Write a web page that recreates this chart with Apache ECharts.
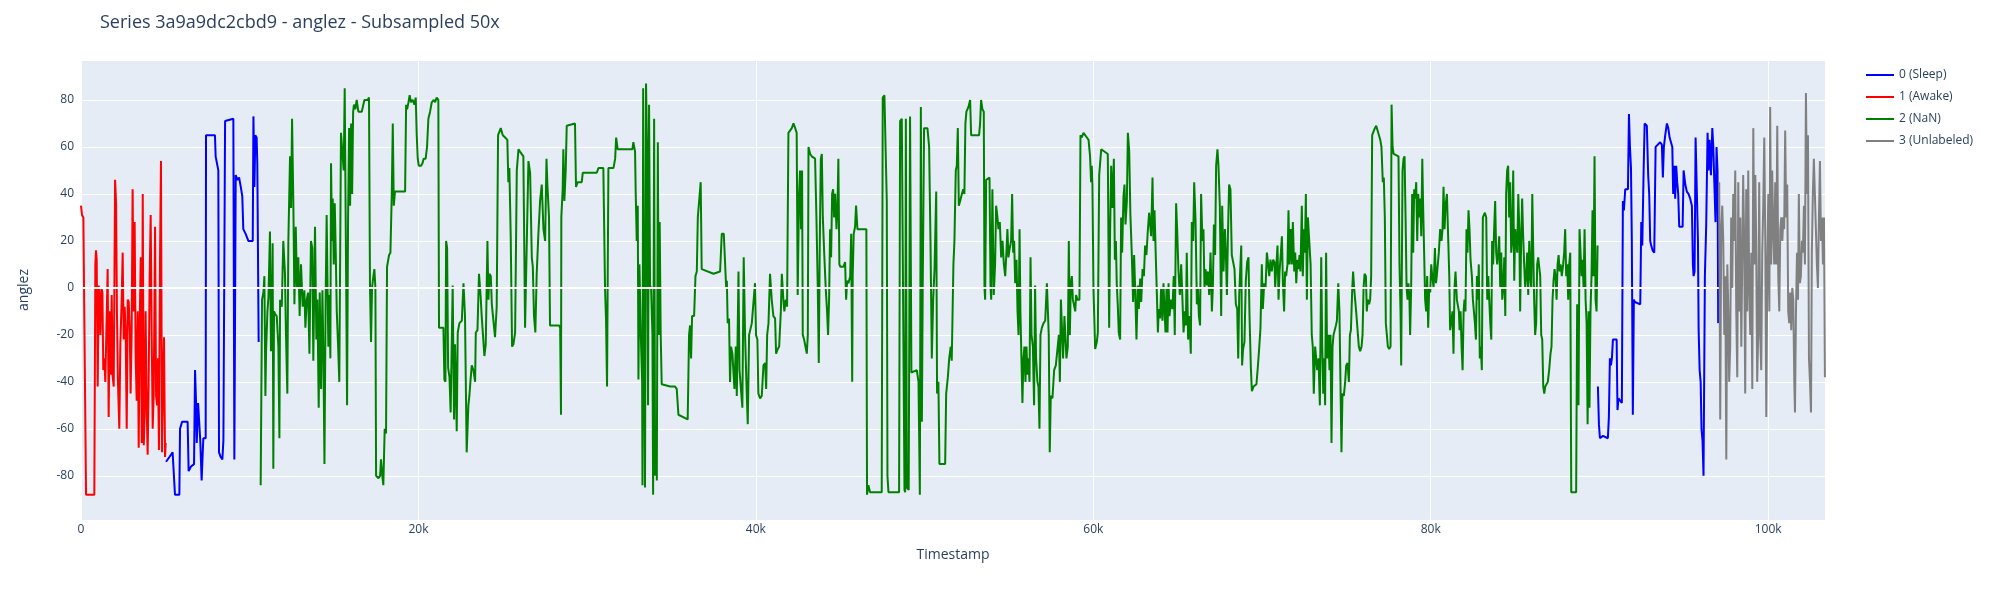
<!DOCTYPE html>
<html>
<head>
<meta charset="utf-8">
<title>Series 3a9a9dc2cbd9 - anglez</title>
<script src="https://cdn.jsdelivr.net/npm/echarts@6/dist/echarts.min.js"></script>
<style>
  html, body { margin: 0; padding: 0; background: #fff; }
  #chart { width: 2000px; height: 600px; }
</style>
</head>
<body>
<div id="chart"></div>
<script>
// [timestamp, anglez] pairs (subsampled 50x)
const awakePts = [[0,35],[60,31],[140,30],[180,0],[260,0],[300,-88],[790,-88],[850,10],[890,16],[930,12],[990,-42],[1050,1],[1110,-5],[1150,-20],[1210,0],[1270,-2],[1320,-35],[1380,-30],[1440,-40],[1500,-20],[1580,8],[1640,-55],[1700,-10],[1760,-37],[1820,-3],[1880,-38],[1940,-42],[2020,46],[2080,36],[2130,-10],[2190,-40],[2270,-60],[2330,-25],[2410,-5],[2470,15],[2530,-22],[2590,-8],[2650,-20],[2710,-60],[2770,-5],[2830,-6],[2890,-18],[2940,-45],[3000,-20],[3060,42],[3120,-10],[3180,28],[3240,-30],[3300,-48],[3360,-10],[3420,-68],[3480,-15],[3540,13],[3600,-66],[3660,40],[3720,-67],[3770,-55],[3830,-10],[3890,-50],[3950,-71],[4010,-40],[4070,5],[4130,31],[4190,-20],[4250,-60],[4310,-45],[4390,26],[4450,-46],[4510,-50],[4560,-30],[4620,-69],[4680,10],[4740,54],[4800,-70],[4860,-40],[4920,-21],[4980,-72],[5020,-66]];

const sleepPtsA = [[5040,-74],[5240,-72],[5430,-70],[5570,-88],[5830,-88],[5870,-60],[5990,-57],[6320,-57],[6380,-78],[6520,-76],[6700,-75],[6760,-35],[6820,-49],[6860,-66],[6940,-49],[7020,-49],[7070,-65],[7150,-82],[7250,-64],[7390,-64],[7410,65],[7650,65],[7940,65],[7980,56],[8140,50],[8180,-70],[8280,-72],[8380,-73],[8440,-65],[8540,71],[9030,72],[9090,-73],[9170,48],[9270,46],[9370,47],[9470,43],[9560,39],[9620,25],[9760,23],[9920,20],[10180,20],[10220,73],[10280,43],[10330,65],[10410,64],[10450,53],[10530,-23]];

const sleepPtsB = [[89910,-42],[89970,-58],[90030,-64],[90210,-63],[90500,-64],[90560,-55],[90620,-30],[90680,-33],[90740,-30],[90800,-22],[91020,-22],[91070,-52],[91130,-47],[91330,-49],[91390,37],[91450,33],[91530,42],[91690,42],[91750,74],[91810,60],[91870,51],[91920,20],[91980,-54],[92040,-5],[92100,-6],[92420,-7],[92480,28],[92540,18],[92620,50],[92680,70],[92810,69],[92890,48],[92950,40],[93010,20],[93070,18],[93150,16],[93250,15],[93330,60],[93600,62],[93700,61],[93760,47],[93820,60],[93900,65],[94000,70],[94080,68],[94160,64],[94240,62],[94320,60],[94370,40],[94430,52],[94490,38],[94550,52],[94610,45],[94670,40],[94730,26],[94930,26],[94990,50],[95090,44],[95180,41],[95280,40],[95380,38],[95480,35],[95540,10],[95580,5],[95640,7],[95700,64],[95780,64],[95840,20],[95880,-18],[95940,-35],[96000,-40],[96050,-60],[96110,-65],[96170,-80],[96250,5],[96330,27],[96410,66],[96470,50],[96530,63],[96610,48],[96690,68],[96750,60],[96810,45],[96880,28],[96940,60],[97000,50],[97040,-15]];

const nanPts = [
[10650,-84],[10730,-5],[10810,-2],[10870,5],[10930,-46],[10970,-27],[11050,-10],[11110,-4],[11200,24],[11260,-27],[11320,-10],[11360,19],[11400,-77],[11440,-10],[11500,-11],[11600,-12],[11700,-25],[11760,-64],[11800,-5],[11900,-8],[11990,20],[12090,6],[12150,-20],[12230,-45],[12290,20],[12390,56],[12450,34],[12510,72],[12590,34],[12650,-7],[12730,26],[12800,0],[12880,13],[12960,-12],[13040,10],[13140,-8],[13240,-1],[13300,-17],[13380,-5],[13460,-2],[13540,-28],[13630,20],[13710,17],[13770,-31],[13870,26],[13950,-22],[14010,-5],[14090,-51],
[14150,-2],[14230,-43],[14310,-1],[14370,-30],[14430,-75],[14500,-5],[14560,31],[14660,-25],[14720,-3],[14780,-30],[14820,53],[14880,20],[14920,38],[14980,10],[15040,36],[15100,15],[15160,-10],[15240,-25],[15310,-40],[15410,66],[15490,66],[15570,50],[15630,85],[15690,85],[15730,-10],[15770,-50],[15830,30],[15890,68],[15950,35],[16010,70],[16070,40],[16130,75],[16180,78],[16260,76],[16340,80],[16440,75],[16640,75],[16800,80],[16880,80],[16990,80],[17070,81],[17130,0],[17190,-23],[17250,0],[17330,5],[17390,8],[17450,0],[17490,-80],[17630,-81],[17730,-80],[17780,-73],[17860,-80],[17920,-84],[18000,-60],[18080,-62],[18140,9],[18260,14],[18340,15],[18420,40],[18480,70],[18540,35],[18610,41],[19210,41],[19270,78],[19330,76],[19410,79],[19480,82],[19560,79],[19660,80],[19760,78],[19840,81],[19900,65],[19960,55],[20020,52],[20160,52],[20240,53],[20310,55],[20430,55],[20510,60],[20590,72],[20690,75],[20790,79],[20910,80],
[20990,79],[21080,81],[21180,80],[21220,-17],[21480,-17],[21540,-39],[21600,-40],[21640,20],[21700,17],[21760,-34],[21840,-38],[21910,-53],[21970,-53],[22030,1],[22110,-56],[22170,-24],[22270,-61],[22330,-19],[22430,-15],[22570,-14],[22670,2],[22760,-12],[22860,-70],[22960,-50],[23020,-46],[23080,-40],[23160,-33],[23260,-35],[23360,-40],[23400,-19],[23500,-18],[23590,6],[23690,-4],[23750,-12],[23850,-12],[23910,-29],[23990,-24],[24090,20],[24150,-5],[24210,6],[24290,5],[24350,-7],[24440,-7],[24540,-21],[24640,-8],[24720,65],[24800,65],[24880,68],[25000,65],[25140,64],[25270,63],[25330,45],[25390,51],[25470,22],[25550,-25],[25630,-24],[25730,-19],[25830,50],[25930,59],[26020,58],[26220,56],[26320,-17],[26420,-17],[26520,54],[26620,49],[26720,13],[26780,9],[26850,-12],[26930,-19],[27010,6],[27110,23],[27210,37],[27310,44],[27410,25],[27510,20],[27590,55],[27650,43],[27740,30],[27800,-16],
[28340,-16],[28400,-17],[28450,-54],[28470,30],[28550,42],[28590,59],[28650,37],[28730,50],[28790,69],[29280,70],[29340,43],[29440,45],[29680,45],[29740,49],[30570,49],[30670,51],[30960,51],[31060,0],[31120,-14],[31180,-42],[31260,51],[31560,51],[31660,55],[31720,64],[31810,59],[32680,59],[32740,62],[32840,58],[32880,40],[32940,20],[33000,35],[33040,-39],[33100,10],[33180,-20],[33260,-40],[33280,-84],[33320,85],[33380,-30],[33430,-85],[33490,87],[33550,60],[33610,-50],[33670,78],[33730,1],[33790,0],[33870,-20],[33910,-88],[33970,72],[34030,-80],[34090,-60],[34130,-82],[34190,62],[34240,-20],[34300,28],[34360,-20],[34420,-41],[34920,-42],[35210,-42],[35310,-43],[35410,-54],[35960,-56],[36040,-20],[36100,-16],[36160,-30],[36220,-12],[36340,-12],[36420,5],[36500,7],[36560,30],[36640,30],[36730,45],[36790,8],[37490,6],[37880,7],[37980,23],[38100,23],
[38240,0],[38280,3],[38330,-15],[38410,-13],[38470,-40],[38530,-25],[38610,-28],[38670,-28],[38730,-43],[38810,-25],[38870,-46],[38970,7],[39030,-35],[39110,-35],[39200,-51],[39280,13],[39360,-20],[39460,-45],[39520,-58],[39600,-20],[39680,-20],[39760,-15],[39860,-15],[39950,2],[40010,-20],[40090,-22],[40150,-45],[40250,-47],[40350,-46],[40450,-33],[40550,-32],[40610,-43],[40670,-20],[40750,-15],[40840,6],[40940,-5],[41040,-12],[41140,-13],[41200,-28],[41300,-26],[41380,-25],[41480,-10],[41540,6],[41630,-5],[41690,-10],[41770,-5],[41850,-8],[41930,66],[42030,66],[42130,68],[42230,70],[42330,68],[42420,66],[42480,-3],[42560,40],[42620,50],[42680,25],[42740,50],[42780,-20],[42860,-22],[42940,-25],[43020,-28],[43080,-20],[43120,60],[43220,57],[43310,56],[43510,55],[43590,30],[43670,0],[43730,-32],[43790,20],[43850,55],[43910,57],[43970,30],[44050,15],[44140,0],[44220,-10],[44280,-20],[44340,-5],[44400,25],[44460,13],[44520,40],[44580,42],[44640,30],[44700,40],[44780,25],[44840,35],[44890,55],[44950,10],[45010,9],[45190,9],[45290,11],[45350,-5],[45410,3],[45490,2],[45590,5],[45650,23],[45710,-40],[45740,5],[45800,23],[45880,26],[45940,35],[46020,25],[46550,25],[46590,-88],[46670,-84],[46770,-87],[47460,-87],[47520,81],[47620,82],[47720,82],[47760,37],[47800,-80],[47860,-87],[48490,-87],[48550,71],[48650,72],[48750,72],[48810,-86],[48850,-87],[48890,72],[48950,-85],[49060,-86],[49140,73],
[49220,-36],[49540,-35],[49640,-40],[49720,-88],[49780,77],[49840,-57],[49890,0],[49970,68],[50170,68],[50270,60],[50350,20],[50430,-30],[50510,-5],[50590,8],[50690,41],[50740,-45],[50820,-40],[50880,-75],[51220,-75],[51280,-45],[51380,-38],[51460,-30],[51550,-25],[51610,-31],[51710,10],[51770,20],[51850,50],[51910,52],[51970,68],[52030,35],[52110,37],[52210,40],[52290,42],[52360,40],[52420,70],[52480,75],[52600,77],[52700,80],[52760,65],[53230,65],[53290,70],[53350,80],[53430,76],[53510,75],[53550,0],[53590,-5],[53650,46],[53850,47],[53910,0],[53950,-5],[54020,42],[54100,-3],[54180,10],[54240,35],[54320,30],[54380,25],[54460,28],[54540,13],[54620,20],[54700,10],[54780,5],[54850,15],[54910,25],[54970,13],[55050,17],[55130,20],[55190,40],[55250,15],[55310,20],[55370,2],[55450,12],[55510,-10],[55570,-20],[55630,25],[55680,-10],[55740,-10],[55800,-49],[55860,-30],[55920,-25],[55980,-40],[56040,-25],[56100,-37],[56160,-30],[56220,-40],[56280,13],[56340,-20],[56420,-25],[56490,-50],[56550,1],[56610,-30],[56690,-40],[56750,-42],[56810,-60],[56870,-20],[56950,-17],[57050,-15],[57150,-14],[57250,2],[57310,2],[57360,-20],[57420,-70],[57480,-46],[57580,-47],[57680,-35],[57780,-33],[57880,-33],[57960,-20],[58020,-40],[58080,-5],[58130,-5],[58210,-30],[58290,-12],[58350,-12],[58410,-30],[58490,-25],[58550,20],[58610,-20],[58670,2],[58730,5],[58790,-5],[58870,-5],[58930,-10],[58980,-3],[59060,-5],[59120,-5],[59180,-5],[59240,65],[59320,64],[59420,66],[59520,66],[59620,64],[59720,63],
[59810,56],[59870,45],[59910,52],[59950,44],[60010,0],[60110,-26],[60210,-23],[60270,-19],[60350,48],[60470,59],[60860,57],[60940,-17],[61000,25],[61060,52],[61140,34],[61220,55],[61280,12],[61340,20],[61390,2],[61450,-7],[61510,-19],[61590,-22],[61650,30],[61710,15],[61790,39],[61850,44],[61910,27],[61990,37],[62050,66],[62130,58],[62200,31],[62280,15],[62360,-6],[62420,14],[62480,0],[62560,-22],[62640,1],[62700,-9],[62780,4],[62840,-6],[62920,8],[63000,5],[63070,18],[63150,14],[63230,24],[63310,32],[63370,27],[63430,22],[63510,47],[63570,20],[63630,33],[63710,12],[63770,-3],[63830,-19],[63880,-9],[63960,-13],[64020,0],[64100,-14],[64160,2],[64220,-9],[64280,-19],[64340,0],[64400,-19],[64460,2],[64520,-12],[64600,-5],[64690,-9],[64770,5],[64830,-20],[64910,36],[64970,25],[65050,7],[65130,-3],[65210,10],[65290,-6],[65350,-19],[65430,-10],[65490,-16],[65540,15],[65620,-22],[65700,-12],[65780,-28],[65840,28],[65920,20],[65980,45],[66060,29],[66140,-7],[66200,0],[66260,-12],[66330,-16],[66390,40],[66470,20],[66530,25],[66590,0],[66650,8],[66730,1],[66790,7],[66870,-3],[66950,15],[67030,-10],[67090,1],[67150,27],[67220,14],[67280,52],[67360,59],[67420,52],[67500,35],[67580,-12],[67640,35],[67720,7],[67800,25],[67860,14],[67920,-3],[67980,22],[68050,44],[68130,42],[68210,14],[68290,11],[68370,8],[68450,-7],[68530,-9],[68590,-30],[68650,-3],[68710,8],[68770,18],[68820,-33],[68880,-26],[68960,-23],[69040,3],[69120,11],[69200,13],[69260,-12],[69340,-34],[69400,-44],[69500,-42],[69600,-42],[69670,-41],[69750,-34],[69830,-26],[69910,-17],[69990,10],[70050,-9],[70130,2],[70210,0],[70290,15],[70350,11],[70430,5],[70500,12],[70580,7],[70660,12],[70740,11],[70780,0],
[70840,0],[70920,18],[70980,-5],[71040,7],[71120,15],[71180,22],[71240,2],[71310,-10],[71370,7],[71430,5],[71510,10],[71570,33],[71630,10],[71710,25],[71770,10],[71830,28],[71910,7],[71970,15],[72030,2],[72100,12],[72160,8],[72220,14],[72280,7],[72360,35],[72420,5],[72480,25],[72540,15],[72600,40],[72660,-5],[72720,30],[72800,20],[72880,10],[72950,-20],[73010,-25],[73070,-45],[73150,-25],[73210,-25],[73270,-35],[73350,-30],[73430,-50],[73510,13],[73570,-25],[73630,-45],[73690,-30],[73740,-50],[73800,15],[73860,-30],[73940,-20],[74000,-35],[74060,-20],[74120,-66],[74180,-25],[74240,-20],[74320,-20],[74380,-16],[74440,-14],[74520,2],[74590,-10],[74650,-40],[74710,-70],[74770,-45],[74850,-46],[74930,-40],[74990,-33],[75070,-32],[75150,-40],[75210,-20],[75270,-18],[75350,0],[75400,7],[75460,0],[75520,-5],[75580,-10],[75660,-10],[75740,-25],[75820,-27],[75900,-25],[75960,-20],[76020,0],[76080,6],[76160,5],[76210,-10],[76270,-5],[76350,-7],[76410,-5],[76470,5],[76530,65],[76610,65],[76690,68],[76770,69],[76850,67],[76930,65],[77010,63],[77080,60],[77160,45],[77220,47],[77280,30],[77340,-15],[77400,-20],[77460,-25],[77540,-26],[77620,-25],[77680,78],[77740,60],[77800,57],[77890,57],[78090,56],[78150,10],[78210,-10],[78250,-33],[78330,50],[78390,55],[78450,56],[78510,30],[78570,0],[78630,-5],[78680,2],[78740,-5],[78780,-20],[78840,0],[78900,40],[78960,15],[79020,42],[79080,38],[79140,45],[79200,20],[79260,40],[79320,30],[79380,38],[79440,22],[79500,55],[79550,35],[79610,15],[79670,-5],[79730,-10],[79790,5],[79850,-17],[79910,0],[79970,-2],[80030,10],[80090,5],[80170,0],[80250,17],[80310,2],[80360,5],[80420,10],[80480,15],[80560,25],[80640,20],[80700,25],[80760,43],[80820,25],[80880,35],[80960,40],[81040,20],[81100,5],[81150,-18],[81210,-15],[81290,-10],[81350,-28],[81410,0],[81470,7],[81550,-5],[81610,-5],[81670,-10],
[81710,-18],[81770,-10],[81830,-25],[81890,-35],[81950,-10],[82000,-5],[82060,-10],[82120,25],[82180,15],[82240,33],[82300,25],[82360,12],[82440,5],[82500,-5],[82560,-10],[82620,-15],[82680,-22],[82740,5],[82800,-5],[82850,10],[82910,-30],[82970,-25],[83030,-35],[83090,30],[83150,30],[83210,32],[83290,30],[83350,-5],[83410,5],[83470,5],[83530,-15],[83590,-22],[83640,20],[83700,10],[83760,25],[83820,37],[83880,15],[83940,10],[84000,15],[84060,22],[84120,0],[84180,15],[84240,-5],[84300,0],[84360,13],[84420,-12],[84470,40],[84530,50],[84590,52],[84650,30],[84710,45],[84770,15],[84830,20],[84890,50],[84950,3],[85010,25],[85070,20],[85130,15],[85190,40],[85250,25],[85300,-10],[85360,20],[85420,38],[85480,22],[85540,10],[85600,0],[85660,5],[85720,15],[85780,-3],[85840,20],[85900,5],[85960,0],[86020,40],[86080,15],[86130,-5],[86190,-20],[86250,-15],[86310,10],[86370,13],[86430,13],[86490,5],[86550,-20],[86610,-22],[86670,-42],[86730,-45],[86790,-42],[86940,-40],[87020,-35],[87100,-28],[87160,-25],[87220,-5],[87280,3],[87340,8],[87400,5],[87460,-5],[87520,10],[87580,14],[87640,7],[87700,10],[87770,5],[87850,10],[87910,15],[87970,25],[88030,5],[88090,10],[88150,-5],[88210,10],[88270,15],[88330,-87],[88620,-87],[88680,-7],[88760,-50],[88820,25],[88880,25],[88940,5],[89000,12],[89060,0],[89120,25],[89180,-5],[89240,-15],[89300,-58],[89360,-10],[89410,-51],[89470,-10],[89530,5],[89590,33],[89650,5],[89710,56],[89770,-5],[89830,-10],[89890,18]
];

const unlabeledPts = [[97100,45],[97160,-56],[97220,25],[97280,35],[97340,20],[97400,-20],[97460,5],[97520,-73],[97580,10],[97640,-10],[97690,-40],[97750,-25],[97810,30],[97870,0],[97930,40],[97990,20],[98050,50],[98110,-10],[98170,-38],[98230,45],[98290,-10],[98350,30],[98410,-25],[98470,15],[98520,48],[98580,20],[98640,-45],[98700,42],[98760,-10],[98820,50],[98880,0],[98940,-20],[99000,15],[99060,-43],[99120,68],[99180,10],[99240,48],[99290,20],[99350,-40],[99410,-20],[99470,45],[99530,-20],[99590,-35],[99650,15],[99710,35],[99770,64],[99830,20],[99890,-55],[99950,10],[100010,40],[100070,-10],[100120,77],[100180,10],[100240,50],[100300,25],[100360,10],[100420,45],[100480,10],[100540,69],[100600,5],[100660,-10],[100720,25],[100780,30],[100840,20],[100900,30],[100950,25],[101010,67],[101070,30],[101130,44],[101190,-10],[101250,-15],[101310,-2],[101370,-18],[101430,0],[101490,-5],[101550,-40],[101590,-53],[101650,-10],[101710,15],[101770,-5],[101820,40],[101880,2],[101940,5],[102000,20],[102060,15],[102120,35],[102180,10],[102240,83],[102300,40],[102360,65],[102420,-30],[102480,-40],[102540,-53],[102590,15],[102650,40],[102710,55],[102770,40],[102830,25],[102890,10],[102950,0],[103010,30],[103070,54],[103130,20],[103190,30],[103250,10],[103310,30],[103365,-38]];

const seriesNames = ['0 (Sleep)', '1 (Awake)', '2 (NaN)', '3 (Unlabeled)'];
const seriesColors = ['#0000ff', '#ff0000', '#008000', '#808080'];

const FONT = '"Open Sans", verdana, arial, sans-serif';
const INK = '#2a3f5f';

const chart = echarts.init(document.getElementById('chart'), null, { renderer: 'canvas', width: 2000, height: 600 });

function lineSeries(idx, data) {
  return {
    name: seriesNames[idx],
    type: 'line',
    data: data,
    z: 2 + idx,
    symbol: 'none',
    showSymbol: false,
    connectNulls: false,
    color: seriesColors[idx],
    lineStyle: { width: 2, color: seriesColors[idx] }
  };
}

// sleep has two separate stretches; '-' breaks the line between them
const sleepData = sleepPtsA.concat([['-', '-']], sleepPtsB);

const option = {
  animation: false,
  backgroundColor: '#ffffff',
  textStyle: { fontFamily: FONT },
  title: {
    text: 'Series 3a9a9dc2cbd9 - anglez - Subsampled 50x',
    left: 95,
    top: 9,
    textStyle: { fontFamily: FONT, fontSize: 18, fontWeight: 'normal', color: INK }
  },
  legend: {
    data: seriesNames,
    orient: 'vertical',
    left: 1861,
    top: 64,
    icon: 'rect',
    itemWidth: 28,
    itemHeight: 2,
    itemGap: 10,
    textStyle: { fontFamily: FONT, fontSize: 12, color: INK }
  },
  grid: {
    left: 81, right: 175, top: 60, bottom: 80,
    show: true, backgroundColor: '#E5ECF6', borderWidth: 0
  },
  xAxis: {
    type: 'value',
    min: 0,
    max: 103370,
    interval: 20000,
    name: 'Timestamp',
    nameLocation: 'middle',
    nameGap: 28,
    nameTextStyle: { fontFamily: FONT, fontSize: 14, color: INK },
    axisLine: { show: false },
    axisTick: { show: false },
    axisLabel: {
      margin: 4,
      fontSize: 12,
      color: INK,
      showMaxLabel: false,
      formatter: v => (v === 0 ? '0' : (v / 1000) + 'k')
    },
    splitLine: { lineStyle: { color: '#ffffff', width: 1 } }
  },
  yAxis: {
    type: 'value',
    min: -98.8,
    max: 97,
    splitNumber: 10,
    name: 'anglez',
    nameLocation: 'middle',
    nameRotate: 90,
    nameGap: 50,
    nameTextStyle: { fontFamily: FONT, fontSize: 14, color: INK },
    axisLine: { show: false },
    axisTick: { show: false },
    axisLabel: {
      margin: 7,
      fontSize: 12,
      color: INK,
      showMinLabel: false,
      showMaxLabel: false,
      formatter: v => (Math.abs(v % 20) < 1e-6 ? String(v) : '')
    },
    splitLine: { lineStyle: { color: '#ffffff', width: 1 } }
  },
  series: [
    {
      name: 'zero',
      type: 'line',
      data: [],
      z: 1,
      silent: true,
      markLine: {
        silent: true,
        symbol: 'none',
        label: { show: false },
        lineStyle: { color: '#ffffff', width: 2, type: 'solid' },
        data: [{ yAxis: 0 }]
      }
    },
    lineSeries(0, sleepData),
    lineSeries(1, awakePts),
    lineSeries(2, nanPts),
    lineSeries(3, unlabeledPts)
  ]
};

chart.setOption(option);
</script>
</body>
</html>
